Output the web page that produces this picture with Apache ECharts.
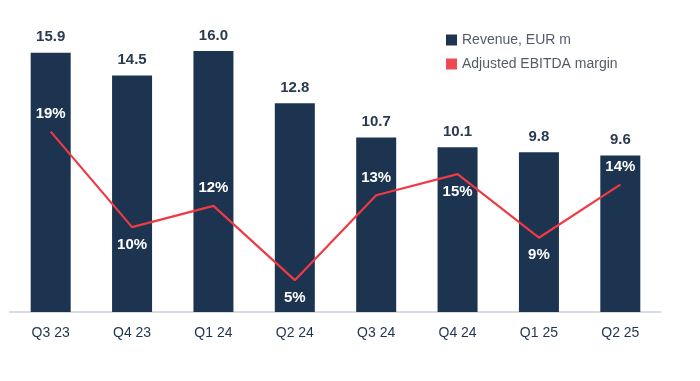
<!DOCTYPE html>
<html><head><meta charset="utf-8">
<script src="https://cdn.jsdelivr.net/npm/echarts@6/dist/echarts.min.js"></script>
<style>html,body{margin:0;padding:0;background:#fff}#c{width:700px;height:381px}</style>
</head><body><div id="c"></div>
<script>
const categories = ['Q3 23','Q4 23','Q1 24','Q2 24','Q3 24','Q4 24','Q1 25','Q2 25'];
const revenue = [15.9, 14.5, 16.0, 12.8, 10.7, 10.1, 9.8, 9.6];
const margin = [19, 10, 12, 5, 13, 15, 9, 14];
const marginLabelPos = ['top','bottom','top','bottom','top','bottom','bottom','top'];

const chart = echarts.init(document.getElementById('c'), null, {renderer:'canvas'});
const font = 'Liberation Sans';
chart.setOption({
  animation:false,
  textStyle:{fontFamily:font},
  legend:{
    orient:'vertical', left:441, top:28, itemWidth:11, itemHeight:11, itemGap:10,
    icon:'rect',
    textStyle:{fontFamily:font, fontSize:14, color:'#555b66'},
    data:['Revenue, EUR m','Adjusted EBITDA margin']
  },
  grid:{left:10, right:39, top:51, bottom:69},
  xAxis:{
    type:'category', data:categories,
    axisLine:{lineStyle:{color:'#c9d1d8', width:1.5}},
    axisTick:{show:false},
    axisLabel:{color:'#1e3450', fontSize:14, margin:14, fontFamily:font}
  },
  yAxis:[
    {type:'value', min:0, max:16, show:false, splitLine:{show:false}},
    {type:'value', min:2, max:26.6, show:false, splitLine:{show:false}}
  ],
  series:[
    {
      name:'Revenue, EUR m', type:'bar', data:revenue, barWidth:40,
      itemStyle:{color:'#1c3450'},
      label:{show:true, position:'top', distance:8, color:'#2b3a4f', fontSize:15, fontWeight:'bold',
        formatter:p=>p.value.toFixed(1)}
    },
    {
      name:'Adjusted EBITDA margin', type:'line', yAxisIndex:1,
      data:margin.map((v,i)=>({value:v, label:{position:marginLabelPos[i]}})),
      symbol:'circle', symbolSize:0.1, showSymbol:true,
      lineStyle:{color:'#ee3a44', width:2.2}, itemStyle:{color:'#ee4a52'},
      label:{show:true, color:'#ffffff', fontSize:15, fontWeight:'bold', distance:10,
        formatter:p=>p.value+'%'}
    }
  ]
});
</script></body></html>
